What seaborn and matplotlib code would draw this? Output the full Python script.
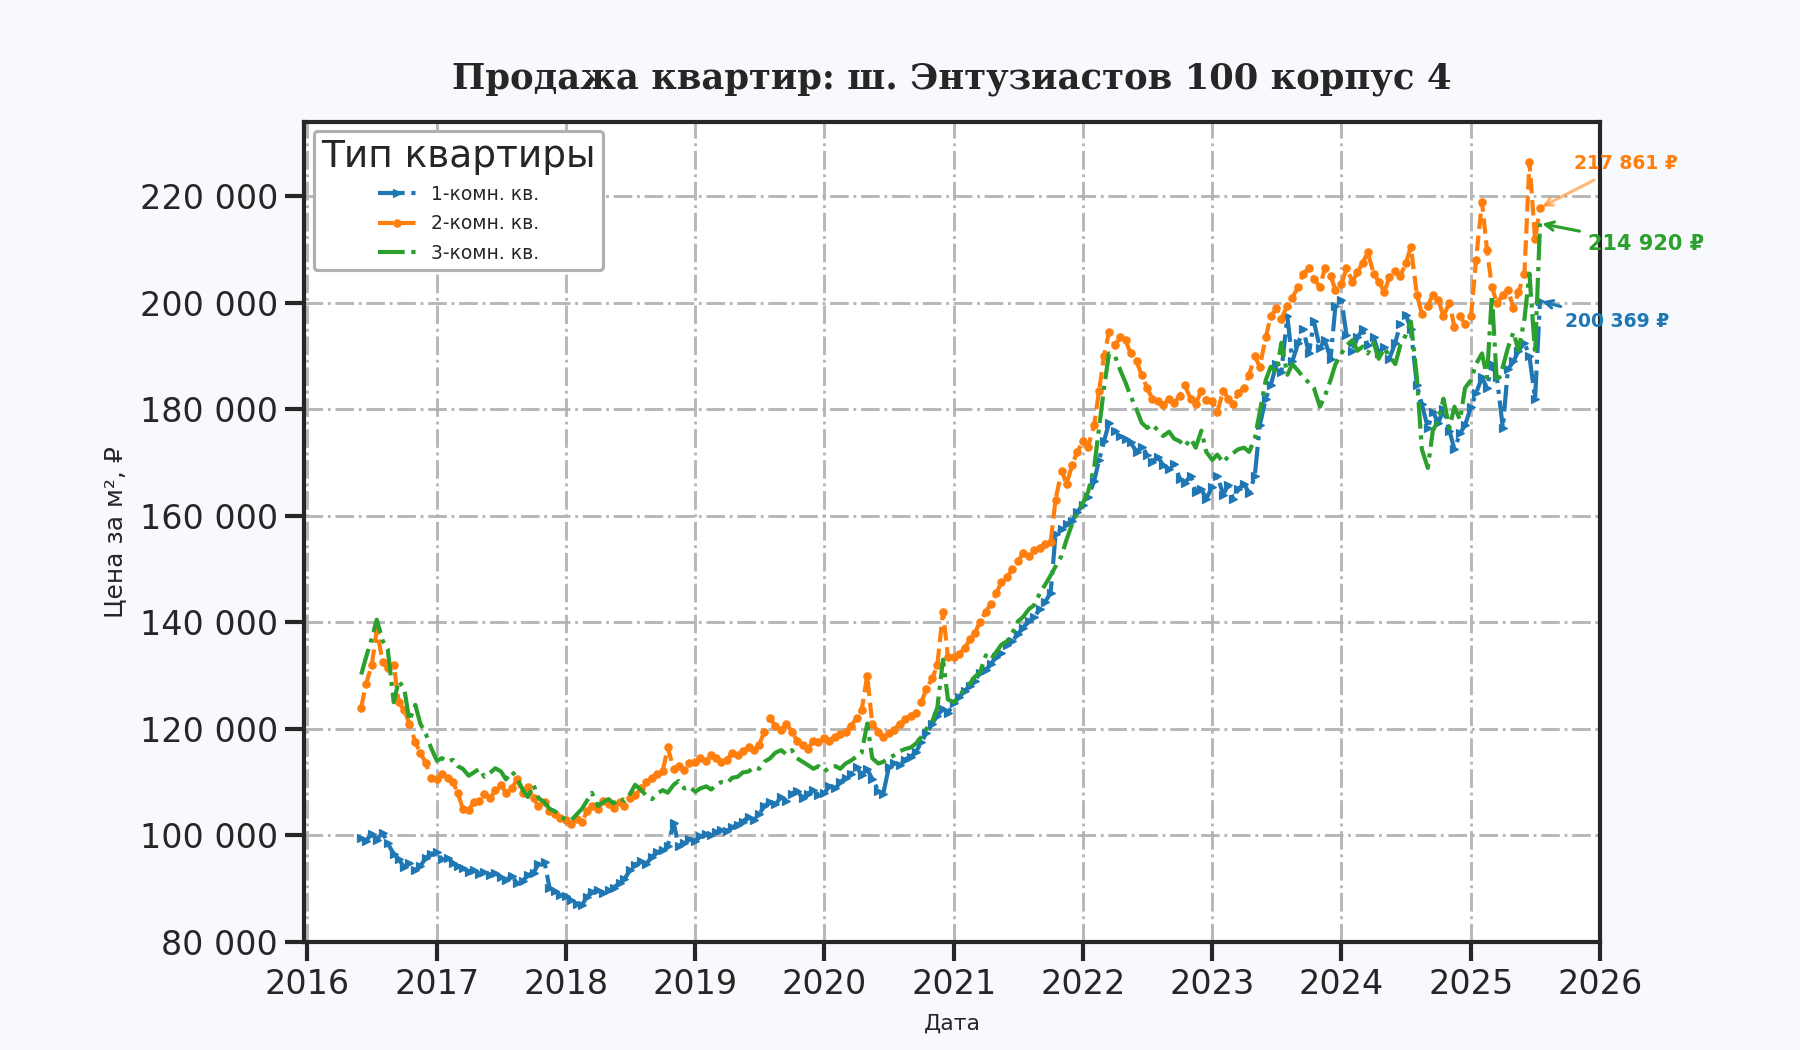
import matplotlib
matplotlib.use('Agg')
import matplotlib.pyplot as plt
import matplotlib.dates as mdates
from matplotlib.ticker import FuncFormatter, MultipleLocator
import seaborn as sns
import pandas as pd

# ---------------- data (semi-monthly readings, RUB per m²) ----------------
series_names = ['1-комн. кв.', '2-комн. кв.', '3-комн. кв.']
start_date = '2016-06-01'

price_1room = [
    99500, 99000, 100300, 99200, 100500, 98500, 96500, 95500, 94000, 94800, 93500, 94200, 95800, 96500,
    96800, 95500, 95800, 94800, 94200, 93800, 93200, 93500, 92800, 93200, 92600, 92900,
    92200, 91600, 92400, 91000, 91500, 92500, 93000, 94600, 95000, 90200, 89500, 88800,
    88600, 87800, 87200, 86900, 88500, 89300, 89800, 89200, 89800, 90200, 91000, 91800,
    93500, 94500, 95200, 94600, 96000, 96800, 97200, 98000, 102300, 98000, 98600, 99300,
    99000, 99800, 100200, 100000, 100600, 101000, 100800, 101500, 102000, 102600, 103500, 102800,
    104000, 105500, 106300, 105800, 107200, 106500, 107800, 108400, 107000, 107800, 108500, 107600,
    108000, 109200, 108800, 110000, 110800, 111500, 112800, 111400, 112400, 110600, 108400, 107800,
    112800, 113600, 113200, 114200, 114800, 115600, 117500, 119200, 121000, 122500, 123800, 123000,
    124800, 126000, 127200, 128000, 129000, 130500, 131000, 132200, 133500, 134200, 135800, 136500,
    137800, 139000, 140200, 141000, 142500, 143800, 145500, 156500, 157500, 158400, 159000, 160800,
    162000, 163500, 166500, 170500, 174000, 177500, 176000, 175000, 174500, 173800, 172000, 173000,
    171500, 170200, 171000, 169500, 168800, 169800, 167000, 166200, 167500, 164500, 165000, 163200,
    165500, 167500, 164000, 165800, 163200, 165000, 166000, 164200, 167500, 177000, 182000, 184500,
    188500, 187000, 197500, 189000, 192500, 195000, 190500, 196500, 191500, 193000, 189500, 199500,
    200500, 194000, 191000, 193500, 195000, 192000, 193500, 190500, 191800, 189500, 192500, 196000,
    197800, 195000, 184500, 181000, 176500, 179500, 177500, 180000, 176000, 172500, 175500, 177000,
    180500, 183000, 186000, 184000, 188500, 186000, 176500, 187500, 189000, 191000, 192500, 190000,
    182000, 200369,
]

price_2room = [
    124000, 128500, 132000, 138500, 132500, 131500, 132000, 125000, 123500, 121000, 117500, 115500, 113500, 110800,
    110500, 111500, 110800, 110000, 108000, 105000, 104800, 106200, 106500, 107800, 107000, 108500,
    109500, 108000, 108800, 110500, 108000, 109000, 107000, 105500, 106200, 104500, 104000, 103200,
    102800, 102200, 103000, 102500, 104500, 105500, 105000, 106500, 105800, 105200, 106200, 105500,
    107000, 107500, 108800, 110000, 110800, 111500, 112000, 116500, 112500, 113000, 112300, 113500,
    113800, 114500, 114000, 115000, 114500, 113800, 114200, 115500, 115000, 115800, 116500, 116000,
    117000, 119500, 122000, 120500, 119800, 121000, 119500, 117800, 117000, 116200, 117800, 117500,
    118200, 117800, 118500, 119000, 119500, 120500, 122000, 123500, 130000, 121000, 119500, 118500,
    119200, 119800, 121000, 121800, 122500, 123000, 125000, 127500, 129500, 132000, 142000, 133500,
    133500, 134000, 135200, 136800, 138000, 140000, 142000, 143500, 145500, 147500, 148500, 150000,
    151500, 153000, 152500, 153500, 154000, 154800, 155000, 163000, 168500, 166000, 169500, 172000,
    174000, 173000, 177000, 183500, 190000, 194500, 192000, 193500, 193000, 190500, 189000, 186500,
    184000, 182000, 181500, 180800, 182000, 181200, 182500, 184500, 182000, 181000, 183500, 181800,
    181500, 179500, 183500, 182000, 181000, 183000, 184000, 186500, 190000, 188000, 193500, 197500,
    199000, 197000, 199500, 201000, 203000, 205500, 206500, 204500, 203000, 206500, 205000, 202500,
    203500, 206500, 204000, 205800, 207500, 209500, 205500, 204000, 202000, 204800, 206000, 205000,
    207500, 210500, 201500, 198000, 199500, 201500, 200500, 197500, 200000, 195500, 197500, 196000,
    197500, 208000, 219000, 210000, 203000, 200000, 201500, 202500, 199000, 202000, 205500, 226500,
    212000, 217861,
]

price_3room = [
    130200, 133500, 137000, 140500, 136500, 135000, 125000, 129000, 127500, 121500, 124500, 121000, 119000, 116500,
    114000, 114500, 113800, 114200, 113000, 112500, 111200, 111800, 112500, 111000, 111800, 112600,
    112000, 110500, 112000, 110800, 108500, 107200, 109500, 107000, 106200, 105000, 104500, 103500,
    103000, 102800, 104000, 105000, 106500, 108000, 105500, 106200, 106800, 106000, 107000, 106500,
    107800, 109500, 108500, 107500, 106800, 107800, 108500, 108000, 109500, 110200, 108800, 109200,
    108200, 108800, 109200, 108600, 109500, 110000, 109800, 110800, 111000, 111800, 112000, 112800,
    112500, 113800, 114500, 115500, 116000, 115200, 116000, 114500, 113800, 113200, 112500, 113000,
    112000, 112800, 113000, 112500, 113500, 114000, 114800, 115500, 121000, 114500, 113500, 113800,
    114500, 115000, 115800, 116200, 116500, 117200, 118500, 120000, 121500, 124000, 133000, 125500,
    125000, 126200, 127500, 128500, 129800, 130500, 133800, 133000, 134500, 135800, 136500, 138000,
    140200, 141000, 142500, 143200, 145500, 147000, 148800, 150500, 152500, 155500, 158500, 160500,
    162500, 164500, 169000, 176500, 184000, 190500, 190000, 187500, 185000, 182500, 180000, 177500,
    176500, 177200, 176000, 175000, 175800, 174500, 174000, 173000, 174500, 172800, 176000, 172000,
    170500, 171500, 170000, 171200, 171800, 172500, 172800, 172000, 174500, 179500, 185500, 188000,
    187000, 192500, 186500, 188500, 187200, 186000, 185000, 184000, 180500, 182500, 185500, 188500,
    190500, 192000, 193000, 191000, 191800, 190500, 192500, 189500, 191500, 190000, 188500, 192000,
    194000, 196500, 186000, 172500, 169000, 176000, 178000, 182000, 176500, 180500, 178000, 184000,
    185500, 188500, 190500, 186000, 201500, 185000, 188000, 191500, 194500, 191000, 197000, 205500,
    190500, 214920,
]

title_text = 'Продажа квартир: ш. Энтузиастов 100 корпус 4'
legend_title = 'Тип квартиры'
x_label = 'Дата'
y_label = 'Цена за м², ₽'

# ---------------- style ----------------
sns.set_theme(style='ticks')
plt.rcParams['font.family'] = ['DejaVu Sans']

colors = ['#1f77b4', '#ff7f0e', '#2ca02c']
linestyles = ['-.', '--', '-.']
markers = ['>', 'o', None]
markersizes = [4, 3.5, 0]
label_sizes = [9, 9, 10]
label_offsets = [(37, -10), (41, 21), (51, -10)]
arrow_alpha = [1.0, 0.55, 1.0]

fig = plt.figure(figsize=(12, 7), dpi=150, facecolor='#f7f9fc')
ax = fig.add_axes([0.169, 0.103, 0.720, 0.781])
ax.set_facecolor('white')

all_prices = [price_1room, price_2room, price_3room]
for i, (name, vals) in enumerate(zip(series_names, all_prices)):
    df = pd.DataFrame({
        'date': pd.date_range(start_date, periods=len(vals), freq='SMS'),
        'price': vals,
    })
    kw = dict(linestyle=linestyles[i], linewidth=2.0, color=colors[i])
    if markers[i] is not None:
        kw.update(marker=markers[i], markersize=markersizes[i],
                  markeredgewidth=0.6, markeredgecolor=colors[i])
    sns.lineplot(data=df, x='date', y='price', label=name, ax=ax,
                 estimator=None, errorbar=None, **kw)
    last_x = df['date'].iloc[-1]
    last_y = df['price'].iloc[-1]
    txt = f'{int(round(last_y)):,}'.replace(',', ' ') + ' ₽'
    ax.annotate(txt, xy=(last_x, last_y), xytext=label_offsets[i],
                textcoords='offset points', ha='center', va='center',
                fontsize=label_sizes[i], fontweight='bold', color=colors[i],
                arrowprops=dict(arrowstyle='->', color=colors[i], lw=1.5,
                                alpha=arrow_alpha[i], shrinkA=2, shrinkB=1),
                annotation_clip=False)

# axes formatting
ax.set_xlim(pd.Timestamp('2015-12-23'), pd.Timestamp('2026-01-01'))
ax.set_ylim(80000, 234000)
ax.xaxis.set_major_locator(mdates.YearLocator())
ax.xaxis.set_major_formatter(mdates.DateFormatter('%Y'))
ax.yaxis.set_major_locator(MultipleLocator(20000))
ax.yaxis.set_major_formatter(FuncFormatter(lambda v, p: f'{int(v):,}'.replace(',', ' ')))

ax.grid(True, which='major', linestyle='-.', linewidth=1.4, color='#b0b0b0', alpha=0.9)
for s in ax.spines.values():
    s.set_visible(True)
    s.set_linewidth(2.0)
    s.set_color('#262626')
ax.tick_params(axis='both', which='major', labelsize=16, length=9, width=2,
               color='#262626', labelcolor='#262626', direction='out')

ax.set_xlabel(x_label, fontsize=10.5, color='#262626', labelpad=6)
ax.set_ylabel(y_label, fontsize=12, color='#262626', labelpad=6)
ax.set_title(title_text, fontsize=17, fontweight='bold', family='DejaVu Serif',
             color='#262626', pad=16)

leg = ax.legend(title=legend_title, loc='upper left', fontsize=9, title_fontsize=18,
                frameon=True, framealpha=1.0, edgecolor='#b0b0b0', facecolor='white',
                handlelength=2.0, labelspacing=0.55, borderaxespad=0.5, borderpad=0.4)
leg.get_frame().set_linewidth(1.5)

fig.savefig('out.png', dpi=150, facecolor=fig.get_facecolor())
